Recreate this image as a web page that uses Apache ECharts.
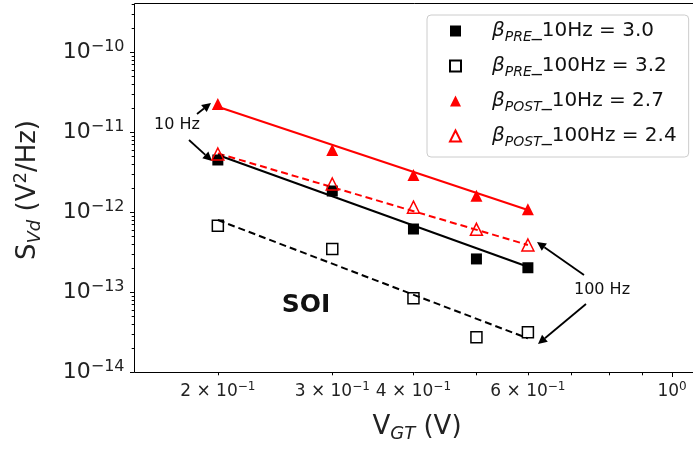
<!DOCTYPE html>
<html><head><meta charset="utf-8">
<script src="https://cdn.jsdelivr.net/npm/echarts@6/dist/echarts.min.js"></script>
<style>html,body{margin:0;padding:0;background:#fff}#c{width:693px;height:449px}</style>
</head><body><div id="c"></div>
<script>
// ---- data ----
const vgt = [0.2, 0.3, 0.4, 0.5, 0.6];
const preLow   = [4.47e-12, 1.83e-12, 6.13e-13, 2.59e-13, 2.01e-13];
const preHigh  = [6.74e-13, 3.45e-13, 8.34e-14, 2.71e-14, 3.13e-14];
const postLow  = [2.24e-11, 5.96e-12, 2.90e-12, 1.60e-12, 1.08e-12];
const postHigh = [5.31e-12, 2.24e-12, 1.15e-12, 6.08e-13, 3.87e-13];
const fitX = [0.2, 0.6];
const fitPreLow   = [5.16e-12, 2.07e-13];
const fitPreHigh  = [7.94e-13, 2.63e-14];
const fitPostLow  = [2.07e-11, 1.06e-12];
const fitPostHigh = [5.41e-12, 3.87e-13];
const betaSub = ['PRE', 'PRE', 'POST', 'POST'];
const legendRest = ['_10Hz = 3.0', '_100Hz = 3.2', '_10Hz = 2.7', '_100Hz = 2.4'];
const xTickValues = [0.2, 0.3, 0.4, 0.5, 0.6, 0.7, 0.8, 0.9, 1.0];
const xTickMant   = ['2', '3', '4', '', '6', '', '', '', ''];
const xTickExp    = ['−1', '−1', '−1', '', '−1', '', '', '', '0'];
const yTickExps   = [-14, -13, -12, -11, -10];
const yTickLabels = ['−14', '−13', '−12', '−11', '−10'];

const FONT = 'DejaVu Sans';
const XMIN = 0.1486, XMAX = 1.077, YMIN = 1e-14, YMAX = 4.1e-10;
const names = betaSub.map((s, i) => 'β' + s + legendRest[i]);

const chart = echarts.init(document.getElementById('c'));
const axisCommon = {
  type: 'log', logBase: 10,
  axisLine: {show: false}, axisTick: {show: false}, axisLabel: {show: false},
  splitLine: {show: false}, minorTick: {show: false}, minorSplitLine: {show: false}
};
const pairs = (xs, ys) => xs.map((x, i) => [x, ys[i]]);

chart.setOption({
  animation: false,
  grid: {left: 134, right: 0, top: 3, bottom: 77, show: false, outerBoundsMode: 'none', containLabel: false},
  xAxis: Object.assign({min: XMIN, max: XMAX}, axisCommon),
  yAxis: Object.assign({min: YMIN, max: YMAX}, axisCommon),
  legend: {
    data: names,
    orient: 'vertical', left: 427, top: 15,
    padding: [6, 12, 8, 22],
    itemGap: 12, itemWidth: 11, itemHeight: 11,
    borderColor: '#cccccc', borderWidth: 1, borderRadius: 4,
    backgroundColor: 'rgba(255,255,255,0.85)',
    selectedMode: false,
    formatter: function (name) {
      const i = names.indexOf(name);
      return '{sp|}{b|β}{s|' + betaSub[i] + '}{t|' + legendRest[i] + '}';
    },
    textStyle: {
      fontFamily: FONT, color: '#111',
      rich: {
        sp: {width: 26},
        b: {fontFamily: FONT, fontStyle: 'italic', fontSize: 20, lineHeight: 26, color: '#111'},
        s: {fontFamily: FONT, fontStyle: 'italic', fontSize: 14, lineHeight: 14, verticalAlign: 'bottom', color: '#111'},
        t: {fontFamily: FONT, fontSize: 20, lineHeight: 26, color: '#111'}
      }
    }
  },
  series: [
    {type: 'line', name: 'fitPostLow', data: pairs(fitX, fitPostLow), symbol: 'none', lineStyle: {color: '#ff0000', width: 2}, z: 2},
    {type: 'line', name: 'fitPostHigh', data: pairs(fitX, fitPostHigh), symbol: 'none', lineStyle: {color: '#ff0000', width: 2, type: [7, 4]}, z: 2},
    {type: 'line', name: 'fitPreLow', data: pairs(fitX, fitPreLow), symbol: 'none', lineStyle: {color: '#000', width: 2}, z: 2},
    {type: 'line', name: 'fitPreHigh', data: pairs(fitX, fitPreHigh), symbol: 'none', lineStyle: {color: '#000', width: 2, type: [7, 4]}, z: 2},
    {type: 'scatter', name: names[0], data: pairs(vgt, preLow), symbol: 'rect', symbolSize: 11,
     itemStyle: {color: '#000', opacity: 1}, z: 3},
    {type: 'scatter', name: names[1], data: pairs(vgt, preHigh), symbol: 'rect', symbolSize: 11,
     itemStyle: {color: 'rgba(255,255,255,0)', borderColor: '#000', borderWidth: 1.5, opacity: 1}, z: 3},
    {type: 'scatter', name: names[2], data: pairs(vgt, postLow), symbol: 'triangle', symbolSize: 12,
     itemStyle: {color: '#ff0000', opacity: 1}, z: 3},
    {type: 'scatter', name: names[3], data: pairs(vgt, postHigh), symbol: 'triangle', symbolSize: 12,
     itemStyle: {color: 'rgba(255,255,255,0)', borderColor: '#ff0000', borderWidth: 1.5, opacity: 1}, z: 3}
  ]
});

// ---- spines, ticks, labels, titles, annotations via the axes' own scales ----
const px = v => chart.convertToPixel({xAxisIndex: 0}, v);
const py = v => chart.convertToPixel({yAxisIndex: 0}, v);
const g = [];
const crisp = v => Math.round(v) + 0.5;
const yBottom = crisp(py(YMIN)), yTop = crisp(py(YMAX)), xLeft = crisp(px(XMIN)), xRight = px(XMAX) + 2;
const spine = {stroke: '#000', lineWidth: 1};
g.push({type: 'line', silent: true, shape: {x1: xLeft, y1: yBottom, x2: xRight, y2: yBottom}, style: spine});
g.push({type: 'line', silent: true, shape: {x1: xLeft, y1: yTop, x2: xRight, y2: yTop}, style: spine});
g.push({type: 'line', silent: true, shape: {x1: xLeft, y1: yTop, x2: xLeft, y2: yBottom}, style: spine});

xTickValues.forEach((v, i) => {
  const x = crisp(px(v));
  const major = Math.abs(v - 1) < 1e-9;
  g.push({type: 'line', silent: true, shape: {x1: x, y1: yBottom, x2: x, y2: yBottom + (major ? 4.5 : 2.8)}, style: spine});
  if (xTickExp[i]) {
    const txt = xTickMant[i] ? '{n|' + xTickMant[i] + ' × 10}{s|' + xTickExp[i] + '}' : '{n|10}{s|' + xTickExp[i] + '}';
    g.push({type: 'text', silent: true, x: px(v), y: yBottom + 8, style: {
      text: txt, align: 'center', verticalAlign: 'top', fill: '#222',
      rich: {
        n: {fontFamily: FONT, fontSize: 17, lineHeight: 22, fill: '#222'},
        s: {fontFamily: FONT, fontSize: 12, lineHeight: 12, verticalAlign: 'top', fill: '#222'}
      }}});
  }
});

for (let e = -14; e <= -10; e++) {
  for (let k = 1; k <= 9; k++) {
    const v = k * Math.pow(10, e);
    if (v < YMIN * 0.999 || v > YMAX) continue;
    const y = crisp(py(v));
    g.push({type: 'line', silent: true, shape: {x1: xLeft, y1: y, x2: xLeft - (k === 1 ? 4.5 : 2.8), y2: y}, style: spine});
  }
}
yTickExps.forEach((e, i) => {
  g.push({type: 'text', silent: true, x: xLeft - 10, y: py(Math.pow(10, e)), style: {
    text: '{n|10}{s|' + yTickLabels[i] + '}', align: 'right', verticalAlign: 'middle', fill: '#222',
    rich: {
      n: {fontFamily: FONT, fontSize: 22, lineHeight: 27, fill: '#222'},
      s: {fontFamily: FONT, fontSize: 16, lineHeight: 16, verticalAlign: 'top', fill: '#222'}
    }}});
});

// axis titles
g.push({type: 'text', silent: true, x: 417, y: 427, style: {
  text: '{m|V}{sub|GT}{m| (V)}', align: 'center', verticalAlign: 'middle', fill: '#222',
  rich: {
    m: {fontFamily: FONT, fontSize: 26, lineHeight: 32, fill: '#222'},
    sub: {fontFamily: FONT, fontSize: 18, fontStyle: 'italic', lineHeight: 18, verticalAlign: 'bottom', fill: '#222'}
  }}});
g.push({type: 'text', silent: true, x: 28, y: 190, rotation: Math.PI / 2, style: {
  text: '{m|S}{sub|Vd}{m| (V}{sup|2}{m|/Hz)}', align: 'center', verticalAlign: 'middle', fill: '#222',
  rich: {
    m: {fontFamily: FONT, fontSize: 26, lineHeight: 32, fill: '#222'},
    sub: {fontFamily: FONT, fontSize: 18, fontStyle: 'italic', lineHeight: 18, verticalAlign: 'bottom', fill: '#222'},
    sup: {fontFamily: FONT, fontSize: 18, lineHeight: 18, verticalAlign: 'top', fill: '#222'}
  }}});

// annotations
function arrow(x1, y1, x2, y2) {
  const dx = x2 - x1, dy = y2 - y1, L = Math.hypot(dx, dy), ux = dx / L, uy = dy / L;
  const hl = 9, hw = 4.5, bx = x2 - ux * hl, by = y2 - uy * hl;
  g.push({type: 'line', silent: true, shape: {x1: x1, y1: y1, x2: bx, y2: by}, style: {stroke: '#000', lineWidth: 1.8}});
  g.push({type: 'polygon', silent: true, shape: {points: [[x2, y2], [bx - uy * hw, by + ux * hw], [bx + uy * hw, by - ux * hw]]}, style: {fill: '#000'}});
}
g.push({type: 'text', silent: true, x: 177, y: 125, style: {text: '10 Hz', font: '16px "DejaVu Sans"', align: 'center', verticalAlign: 'middle', fill: '#111'}});
arrow(197, 114, 211, 103);
arrow(189, 140, 212, 161);
g.push({type: 'text', silent: true, x: 602, y: 290, style: {text: '100 Hz', font: '16px "DejaVu Sans"', align: 'center', verticalAlign: 'middle', fill: '#111'}});
arrow(584, 275, 537, 242);
arrow(586, 304, 538, 344);
g.push({type: 'text', silent: true, x: 306, y: 305, style: {text: 'SOI', font: 'bold 25px "DejaVu Sans"', align: 'center', verticalAlign: 'middle', fill: '#111'}});

chart.setOption({graphic: {elements: g}});
</script>
</body></html>
